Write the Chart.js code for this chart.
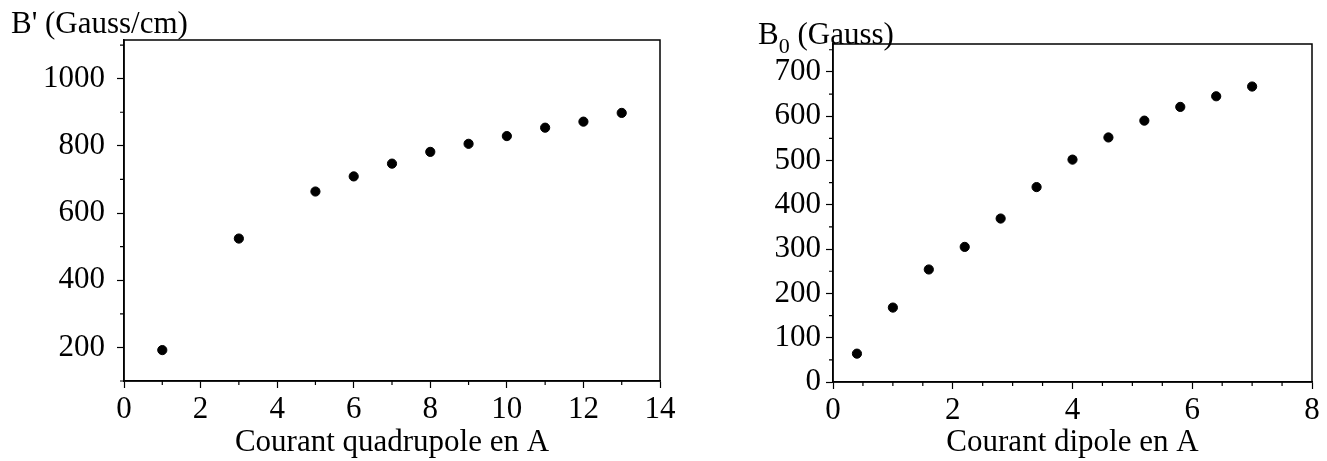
<!DOCTYPE html>
<html>
<head>
<meta charset="utf-8">
<script src="https://cdn.jsdelivr.net/npm/chart.js@4.4.0/dist/chart.umd.min.js"></script>
<style>
  html, body { margin: 0; padding: 0; background: #fff; }
  #wrap { position: relative; width: 1327px; height: 461px; }
  .box { position: absolute; top: 0; height: 461px; }
  #leftBox { left: 0; width: 700px; }
  #rightBox { left: 700px; width: 627px; }
</style>
</head>
<body>
<div id="wrap">
  <div class="box" id="leftBox"><canvas id="quadChart"></canvas></div>
  <div class="box" id="rightBox"><canvas id="dipChart"></canvas></div>
</div>
<script>
'use strict';
// left chart: quadrupole
let quadCurrent = [1, 3, 5, 6, 7, 8, 9, 10, 11, 12, 13];
let quadGradient = [192, 524, 664, 709, 747, 782, 806, 829, 854, 872, 898];
let quadXLabel = 'Courant quadrupole en A';

// right chart: dipole
let dipCurrent = [0.4, 1.0, 1.6, 2.2, 2.8, 3.4, 4.0, 4.6, 5.2, 5.8, 6.4, 7.0];
let dipField = [64, 168, 254, 305, 369, 440, 502, 552, 590, 621, 645, 667];
let dipXLabel = 'Courant dipole en A';

let serif = "'Liberation Serif', 'Times New Roman', serif";
let fontSize = 31;

function isMajor(v, step) {
  let r = v / step;
  return Math.abs(r - Math.round(r)) < 1e-6;
}

function toPoints(xs, ys) {
  let pts = [];
  for (let i = 0; i < xs.length; i++) {
    pts.push({ x: xs[i], y: ys[i] });
  }
  return pts;
}

// frame box, short minor ticks and the y title above the axis
let framePlugin = {
  id: 'frame',
  afterDraw(chart, args, opts) {
    let ctx = chart.ctx;
    let a = chart.chartArea;
    let xs = chart.scales.x;
    let ys = chart.scales.y;
    ctx.save();
    ctx.strokeStyle = '#000';
    ctx.lineWidth = 1.5;
    ctx.strokeRect(a.left, a.top, a.right - a.left, a.bottom - a.top);

    ctx.lineWidth = 1.2;
    ctx.beginPath();
    xs.ticks.forEach(t => {
      if (!isMajor(t.value, opts.xMajor)) {
        let px = xs.getPixelForValue(t.value);
        ctx.moveTo(px, a.bottom);
        ctx.lineTo(px, a.bottom + 4);
      }
    });
    ys.ticks.forEach(t => {
      if (!isMajor(t.value, opts.yMajor)) {
        let py = ys.getPixelForValue(t.value);
        ctx.moveTo(a.left, py);
        ctx.lineTo(a.left - 4, py);
      }
    });
    ctx.stroke();

    ctx.fillStyle = '#000';
    ctx.textBaseline = 'alphabetic';
    ctx.textAlign = 'left';
    let x = opts.titleX;
    opts.title.forEach(part => {
      let size = part.sub ? 22 : fontSize;
      ctx.font = size + 'px ' + serif;
      ctx.fillText(part.text, x, opts.titleY + (part.sub ? 9 : 0));
      x += ctx.measureText(part.text).width;
    });
    ctx.restore();
  }
};

function makeChart(canvasId, xs, ys, cfg) {
  let ctx = document.getElementById(canvasId).getContext('2d');
  return new Chart(ctx, {
    type: 'scatter',
    data: {
      datasets: [{
        data: toPoints(xs, ys),
        backgroundColor: '#000',
        borderColor: '#000',
        pointRadius: 4.6,
        pointHoverRadius: 4.6
      }]
    },
    options: {
      responsive: true,
      maintainAspectRatio: false,
      animation: false,
      events: [],
      layout: { padding: { left: 0, top: cfg.top, right: cfg.right, bottom: 0 } },
      plugins: {
        legend: { display: false },
        tooltip: { enabled: false },
        frame: {
          xMajor: cfg.xMajor,
          yMajor: cfg.yMajor,
          title: cfg.title,
          titleX: cfg.titleX,
          titleY: cfg.titleY
        }
      },
      scales: {
        x: {
          type: 'linear',
          min: cfg.xMin,
          max: cfg.xMax,
          afterFit: s => { s.height = cfg.xAxisHeight; },
          border: { display: true, color: '#000', width: 1.5 },
          grid: {
            drawOnChartArea: false,
            drawTicks: true,
            tickLength: 7,
            tickWidth: 1.2,
            tickColor: c => (c.tick && isMajor(c.tick.value, cfg.xMajor)) ? '#000' : 'rgba(0,0,0,0)'
          },
          ticks: {
            stepSize: cfg.xStep,
            includeBounds: false,
            maxRotation: 0,
            autoSkip: false,
            padding: 3,
            color: '#000',
            font: { family: serif, size: fontSize },
            callback: v => isMajor(v, cfg.xMajor) ? String(v) : ''
          },
          title: {
            display: true,
            text: cfg.xLabel,
            color: '#000',
            font: { family: serif, size: fontSize },
            padding: { top: 0, bottom: 0 }
          }
        },
        y: {
          type: 'linear',
          min: cfg.yMin,
          max: cfg.yMax,
          afterFit: s => { s.width = cfg.yAxisWidth; },
          border: { display: true, color: '#000', width: 1.5 },
          grid: {
            drawOnChartArea: false,
            drawTicks: true,
            tickLength: 7,
            tickWidth: 1.2,
            tickColor: c => (c.tick && isMajor(c.tick.value, cfg.yMajor)) ? '#000' : 'rgba(0,0,0,0)'
          },
          ticks: {
            stepSize: cfg.yStep,
            includeBounds: false,
            autoSkip: false,
            padding: cfg.yPad,
            color: '#000',
            font: { family: serif, size: fontSize },
            callback: v => isMajor(v, cfg.yMajor) ? String(v) : ''
          }
        }
      }
    },
    plugins: [framePlugin]
  });
}

makeChart('quadChart', quadCurrent, quadGradient, {
  xMin: 0, xMax: 14, xStep: 1, xMajor: 2,
  yMin: 100, yMax: 1115, yStep: 100, yMajor: 200,
  xLabel: quadXLabel,
  yAxisWidth: 124, xAxisHeight: 80, top: 40, right: 40, yPad: 12,
  title: [{ text: "B' (Gauss/cm)" }],
  titleX: 11, titleY: 33
});

makeChart('dipChart', dipCurrent, dipField, {
  xMin: 0, xMax: 8, xStep: 0.5, xMajor: 2,
  yMin: 0, yMax: 763, yStep: 50, yMajor: 100,
  xLabel: dipXLabel,
  yAxisWidth: 133, xAxisHeight: 79, top: 44, right: 15, yPad: 5,
  title: [{ text: 'B' }, { text: '0', sub: true }, { text: ' (Gauss)' }],
  titleX: 58, titleY: 44
});
</script>
</body>
</html>
